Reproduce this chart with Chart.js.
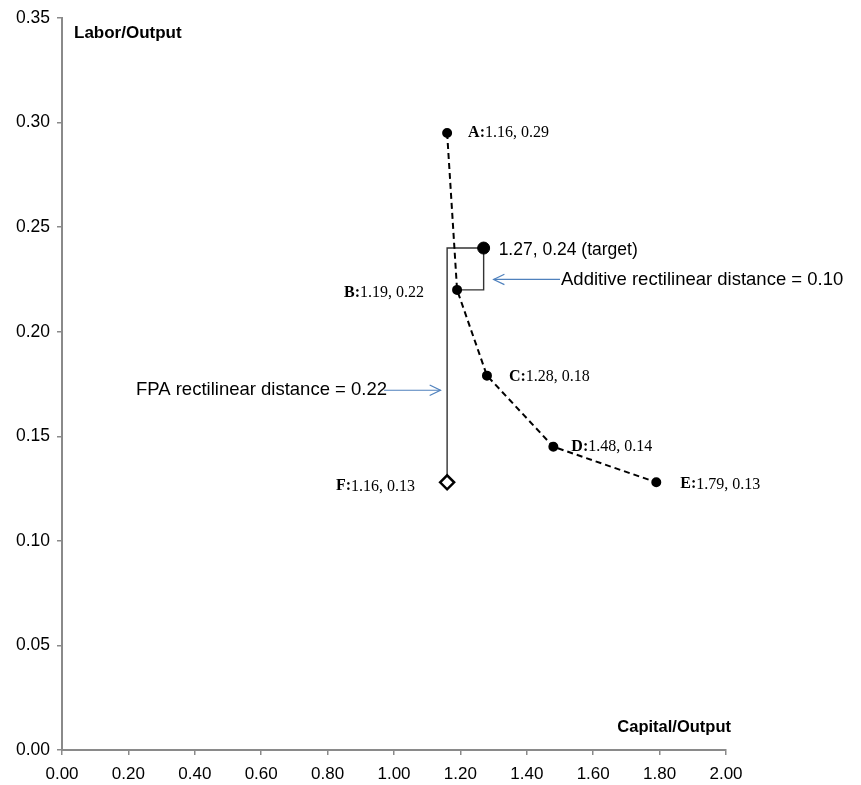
<!DOCTYPE html>
<html>
<head>
<meta charset="utf-8">
<script src="https://cdn.jsdelivr.net/npm/chart.js@4.4.1/dist/chart.umd.min.js"></script>
<style>
  html, body { margin: 0; padding: 0; background: #fff; }
  canvas { display: block; }
</style>
</head>
<body>
<canvas id="chart" width="861" height="785"></canvas>
<script>
// frontier units A..E
const unitNames = ['A', 'B', 'C', 'D', 'E'];
const unitValues = ['1.16, 0.29', '1.19, 0.22', '1.28, 0.18', '1.48, 0.14', '1.79, 0.13'];
const capitalOutput = [1.16, 1.19, 1.28, 1.48, 1.79];
const laborOutput = [0.295, 0.22, 0.179, 0.145, 0.128];

// target unit and FPA projection F
const targetCapital = [1.27];
const targetLabor = [0.24];
const targetText = '1.27, 0.24 (target)';
const fpaCapital = [1.16];
const fpaLabor = [0.128];
const fpaName = 'F';
const fpaValue = '1.16, 0.13';

// rectilinear distance path: F -> corner -> target -> down -> B
const pathCapital = [1.16, 1.16, 1.27, 1.27, 1.19];
const pathLabor = [0.128, 0.24, 0.24, 0.22, 0.22];

// annotation arrows (first point = arrow head)
const addArrowCapital = [1.30, 1.50];
const addArrowLabor = [0.225, 0.225];
const addText = 'Additive rectilinear distance = 0.10';
const fpaArrowCapital = [1.14, 0.97];
const fpaArrowLabor = [0.172, 0.172];
const fpaText = 'FPA rectilinear distance = 0.22';

const xTitle = 'Capital/Output';
const yTitle = 'Labor/Output';

const toXY = (xs, ys) => xs.map((v, i) => ({ x: v, y: ys[i] }));

const axisGray = '#8a8a8a';
const arrowBlue = '#4f81bd';
const sans = '"Liberation Sans", Arial, sans-serif';
const serif = '"Liberation Serif", "Times New Roman", serif';

// labels next to the points, arrow heads, axis titles
const annotations = {
    id: 'annotations',
    afterDatasetsDraw(chart) {
        const { ctx, scales: { x, y } } = chart;
        ctx.save();
        ctx.textBaseline = 'middle';
        ctx.fillStyle = '#000';

        const serifLabel = (name, value, px, py, align) => {
            ctx.font = 'bold 16px ' + serif;
            const w1 = ctx.measureText(name + ':').width;
            ctx.font = '16px ' + serif;
            const w2 = ctx.measureText(value).width;
            const sx = align === 'right' ? px - w1 - w2 : px;
            ctx.textAlign = 'left';
            ctx.font = 'bold 16px ' + serif;
            ctx.fillText(name + ':', sx, py);
            ctx.font = '16px ' + serif;
            ctx.fillText(value, sx + w1, py);
        };

        const offsets = [[21, 0, 'left'], [-33, 3, 'right'], [22, 1, 'left'], [18, 0, 'left'], [24, 2, 'left']];
        unitNames.forEach((n, i) => {
            const px = x.getPixelForValue(capitalOutput[i]);
            const py = y.getPixelForValue(laborOutput[i]);
            serifLabel(n, unitValues[i], px + offsets[i][0], py + offsets[i][1], offsets[i][2]);
        });
        serifLabel(fpaName, fpaValue,
            x.getPixelForValue(fpaCapital[0]) - 32, y.getPixelForValue(fpaLabor[0]) + 4, 'right');

        // target label
        ctx.font = '17.5px ' + sans;
        ctx.textAlign = 'left';
        ctx.fillText(targetText, x.getPixelForValue(targetCapital[0]) + 15, y.getPixelForValue(targetLabor[0]) + 2);

        // arrow texts
        ctx.font = '18.5px ' + sans;
        ctx.fillText(addText, x.getPixelForValue(addArrowCapital[1]) + 1, y.getPixelForValue(addArrowLabor[1]));
        ctx.textAlign = 'right';
        ctx.fillText(fpaText, x.getPixelForValue(fpaArrowCapital[1]) + 3, y.getPixelForValue(fpaArrowLabor[1]));

        // open arrow heads
        const head = (xs, ys) => {
            const hx = x.getPixelForValue(xs[0]), hy = y.getPixelForValue(ys[0]);
            const tx = x.getPixelForValue(xs[1]), ty = y.getPixelForValue(ys[1]);
            const a = Math.atan2(hy - ty, hx - tx);
            ctx.strokeStyle = arrowBlue;
            ctx.lineWidth = 1.2;
            ctx.beginPath();
            ctx.moveTo(hx - 12 * Math.cos(a - 0.45), hy - 12 * Math.sin(a - 0.45));
            ctx.lineTo(hx, hy);
            ctx.lineTo(hx - 12 * Math.cos(a + 0.45), hy - 12 * Math.sin(a + 0.45));
            ctx.stroke();
        };
        head(addArrowCapital, addArrowLabor);
        head(fpaArrowCapital, fpaArrowLabor);

        // axis titles
        ctx.font = 'bold 17px ' + sans;
        ctx.textAlign = 'left';
        ctx.fillText(yTitle, chart.chartArea.left + 12, chart.chartArea.top + 15);
        ctx.font = 'bold 16.5px ' + sans;
        ctx.textAlign = 'right';
        ctx.fillText(xTitle, chart.chartArea.right + 5, chart.chartArea.bottom - 23);
        ctx.restore();
    }
};

new Chart(document.getElementById('chart'), {
    type: 'scatter',
    data: {
        datasets: [
            {
                data: toXY(fpaCapital, fpaLabor),
                pointStyle: 'rectRot',
                pointRadius: 7,
                borderWidth: 2.5,
                borderColor: '#000',
                backgroundColor: '#fff'
            },
            {
                data: toXY(targetCapital, targetLabor),
                pointRadius: 6,
                borderColor: '#000',
                backgroundColor: '#000'
            },
            {
                data: toXY(capitalOutput, laborOutput),
                showLine: true,
                borderColor: '#000',
                borderWidth: 2,
                borderDash: [6, 4],
                pointRadius: 4,
                pointBackgroundColor: '#000',
                pointBorderColor: '#000'
            },
            {
                data: toXY(pathCapital, pathLabor),
                showLine: true,
                borderColor: '#333',
                borderWidth: 1.4,
                pointRadius: 0
            },
            {
                data: toXY(addArrowCapital, addArrowLabor),
                showLine: true,
                borderColor: arrowBlue,
                borderWidth: 1.2,
                pointRadius: 0
            },
            {
                data: toXY(fpaArrowCapital, fpaArrowLabor),
                showLine: true,
                borderColor: arrowBlue,
                borderWidth: 1.2,
                pointRadius: 0
            }
        ]
    },
    options: {
        responsive: false,
        devicePixelRatio: 1,
        animation: false,
        layout: { padding: { top: 18, right: 135, left: 0, bottom: 0 } },
        plugins: { legend: { display: false }, tooltip: { enabled: false } },
        scales: {
            x: {
                type: 'linear',
                min: 0,
                max: 2,
                afterFit: s => { s.height = 35; },
                ticks: {
                    stepSize: 0.2,
                    color: '#000',
                    padding: 9,
                    maxRotation: 0,
                    font: { size: 17, family: sans },
                    callback: v => Number(v).toFixed(2)
                },
                grid: { drawOnChartArea: false, tickLength: 5, color: axisGray, lineWidth: 1.5 },
                border: { color: axisGray, width: 2 }
            },
            y: {
                type: 'linear',
                min: 0,
                max: 0.35,
                afterFit: s => { s.width = 62; },
                ticks: {
                    stepSize: 0.05,
                    color: '#000',
                    padding: 7,
                    font: { size: 17.5, family: sans },
                    callback: v => Number(v).toFixed(2)
                },
                grid: { drawOnChartArea: false, tickLength: 5, color: axisGray, lineWidth: 1.5 },
                border: { color: axisGray, width: 2 }
            }
        }
    },
    plugins: [annotations]
});
</script>
</body>
</html>
